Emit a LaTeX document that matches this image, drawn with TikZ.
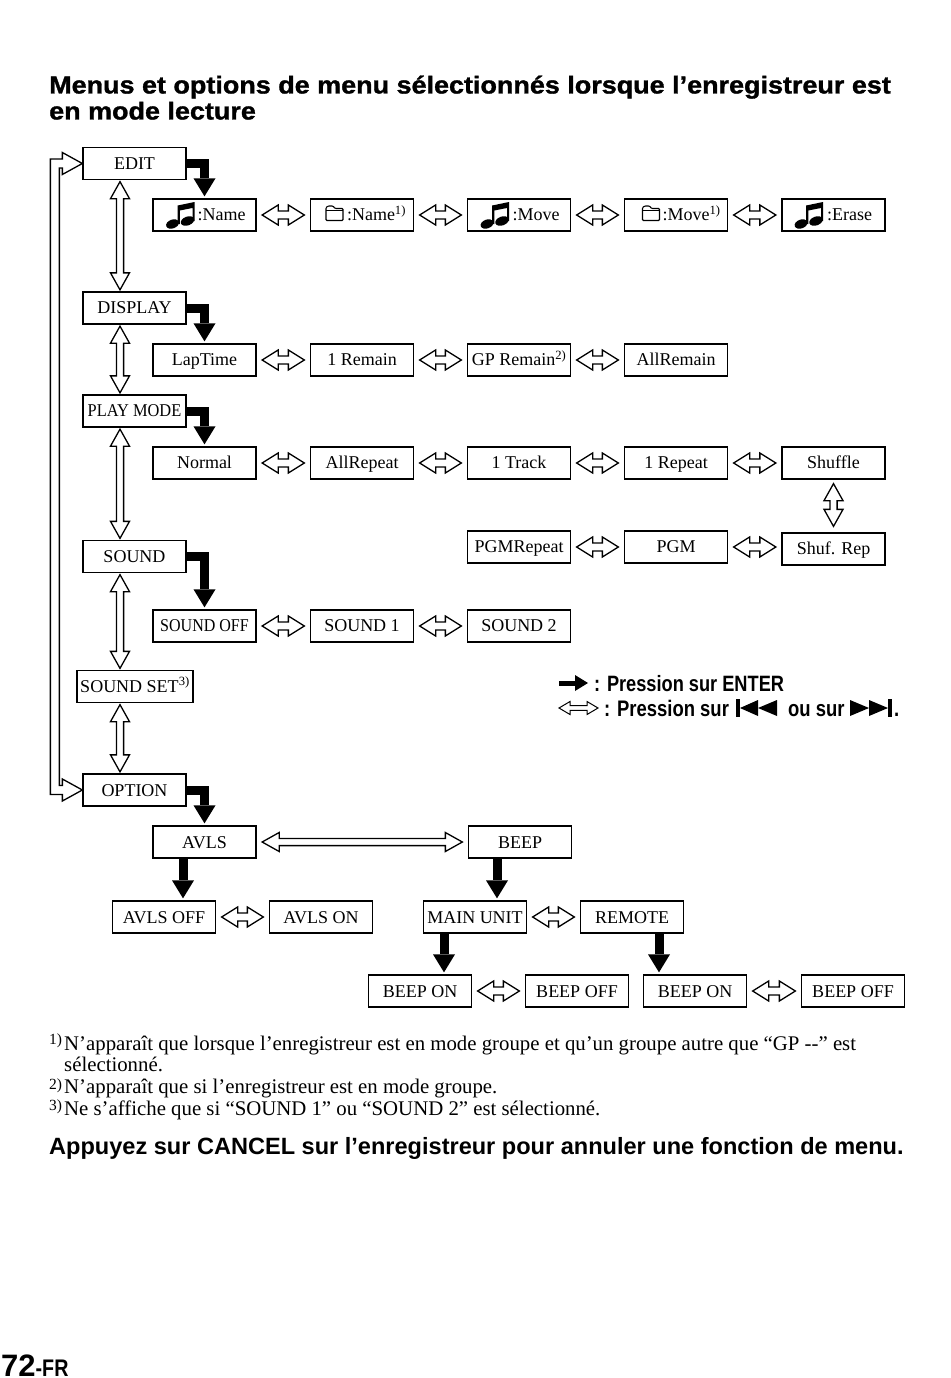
\documentclass[tikz,border=0pt]{standalone}
\usepackage{fontspec}
\setmainfont{Liberation Serif}
\newfontfamily\ttl[FakeStretch=1.10,FakeBold=1.3]{Liberation Sans Bold}
\newfontfamily\hvb{Liberation Sans Bold}
\newfontfamily\cnd[FakeStretch=0.82]{Liberation Sans Bold}
\usetikzlibrary{arrows.meta,calc}
\tikzset{
 box/.style={draw=black,line width=1.3pt,fill=white,minimum width=103pt,minimum height=32pt,inner sep=0pt,text height=12pt,text depth=1pt,font=\fontsize{18}{20}\selectfont},
 low/.style={box,text height=14pt},
 harr/.style n args={3}{to path={let \p1=(\tikztostart),\p2=(\tikztotarget) in
   (\x1,\y1) -- ({\x1+#1pt},{\y1+#2pt}) -- ({\x1+#1pt},{\y1+#3pt}) -- ({\x2-#1pt},{\y1+#3pt}) -- ({\x2-#1pt},{\y1+#2pt}) -- (\x2,\y1)
   -- ({\x2-#1pt},{\y1-#2pt}) -- ({\x2-#1pt},{\y1-#3pt}) -- ({\x1+#1pt},{\y1-#3pt}) -- ({\x1+#1pt},{\y1-#2pt}) -- cycle}},
 varr/.style n args={3}{to path={let \p1=(\tikztostart),\p2=(\tikztotarget) in
   (\x1,\y1) -- ({\x1+#2pt},{\y1-#1pt}) -- ({\x1+#3pt},{\y1-#1pt}) -- ({\x1+#3pt},{\y2+#1pt}) -- ({\x1+#2pt},{\y2+#1pt}) -- (\x1,\y2)
   -- ({\x1-#2pt},{\y2+#1pt}) -- ({\x1-#3pt},{\y2+#1pt}) -- ({\x1-#3pt},{\y1-#1pt}) -- ({\x1-#2pt},{\y1-#1pt}) -- cycle}},
 loopsh/.style={to path={let \p1=(\tikztostart),\p2=(\tikztotarget) in
   (\x1,\y1) -- ({\x1-20pt},{\y1+11pt}) -- ({\x1-20pt},{\y1+4.5pt}) -- ({\x1-32pt},{\y1+4.5pt}) -- ({\x1-32pt},{\y2-4.5pt}) -- ({\x1-20pt},{\y2-4.5pt}) -- ({\x1-20pt},{\y2-11pt}) -- (\x2,\y2)
   -- ({\x1-20pt},{\y2+11pt}) -- ({\x1-20pt},{\y2+4.5pt}) -- ({\x1-23pt},{\y2+4.5pt}) -- ({\x1-23pt},{\y1-4.5pt}) -- ({\x1-20pt},{\y1-4.5pt}) -- ({\x1-20pt},{\y1-11pt}) -- cycle}},
 arr/.style={draw=black,fill=white,line width=1.3pt,miter limit=10},
 blk/.style={draw=black,line width=9pt,-{Triangle[length=18pt,width=22pt,line width=0pt]},shorten >=2pt},
 txt/.style={anchor=base west,inner sep=0pt,font=\fontsize{20.8}{22}\selectfont},
 mrk/.style={anchor=base west,inner sep=0pt,font=\fontsize{15.5}{17}\selectfont},
 note/.pic={
  \fill (0,-2) ellipse[x radius=6.6pt,y radius=4.4pt,rotate=20];
  \fill (15,-5) ellipse[x radius=7pt,y radius=4.4pt,rotate=20];
  \fill (5.2,-2) -- (5.2,-20.5) -- (22,-24) -- (22,-5) -- (20,-5) -- (20,-18) -- (7.4,-15.5) -- (7.4,-2) -- cycle;
 },
 folder/.pic={
  \draw[line width=1.1pt,rounded corners=1pt] (0,0) -- (0,-13) -- (2,-14.5) -- (7,-14.5) -- (9,-12) -- (17,-12) -- (17,0) -- cycle;
  \draw[line width=.8pt] (0,-10.5) -- (17,-10.5);
 }
}
\begin{document}
\begin{tikzpicture}[x=1pt,y=-1pt]
\useasboundingbox (0,0) rectangle (950,1378);
% title
\node[anchor=base west,inner sep=0pt,font=\fontsize{24.5}{26}\ttl] (t1) at (49,93.5) {Menus et options de menu sélectionnés lorsque l’enregistreur est};
\node[anchor=base west,inner sep=0pt,font=\fontsize{24.5}{26}\ttl] (t2) at (49,119.5) {en mode lecture};
% left column
\node[box] (edit) at (134.5,163.5) {EDIT};
\node[box] (display) at (134.5,308) {DISPLAY};
\node[box] (play) at (134.5,411) {\scalebox{0.91}[1]{PLAY MODE}};
\node[box] (sound) at (134.5,556.5) {SOUND};
\node[box,minimum width=116pt] (soundset) at (135,686.5) {SOUND SET\textsuperscript{3)}};
\node[low] (option) at (134.5,790) {OPTION};
% row edit
\node[box] (e1) at (204.5,215) {\hspace{34pt}:Name};
\node[box] (e2) at (362,215) {\hspace{29pt}:Name\textsuperscript{1)}};
\node[box] (e3) at (519,215) {\hspace{34pt}:Move};
\node[box] (e4) at (676,215) {\hspace{31pt}:Move\textsuperscript{1)}};
\node[box] (e5) at (833.5,215) {\hspace{32pt}:Erase};
\pic at (172.5,226) {note};
\pic at (487,226) {note};
\pic at (801,226) {note};
\pic at (326,220.5) {folder};
\pic at (642.5,220.5) {folder};
% row display
\node[box] (d1) at (204.5,360) {LapTime};
\node[box] (d2) at (362,360) {1 Remain};
\node[box] (d3) at (519,360) {GP Remain\textsuperscript{2)}};
\node[box] (d4) at (676,360) {AllRemain};
% row play
\node[box] (p1) at (204.5,463) {Normal};
\node[box] (p2) at (362,463) {AllRepeat};
\node[box] (p3) at (519,463) {1 Track};
\node[box] (p4) at (676,463) {1 Repeat};
\node[box] (p5) at (833.5,463) {Shuffle};
\node[box] (q3) at (519,547) {PGMRepeat};
\node[box] (q4) at (676,547) {PGM};
\node[box] (q5) at (833.5,549) {Shuf. Rep};
% row sound
\node[box] (s1) at (204.5,626) {\scalebox{0.89}[1]{SOUND OFF}};
\node[box] (s2) at (362,626) {SOUND 1};
\node[box] (s3) at (519,626) {SOUND 2};
% option
\node[low] (avls) at (204.5,842) {AVLS};
\node[low] (beep) at (520,842) {BEEP};
\node[low] (aoff) at (164,917) {AVLS OFF};
\node[low] (aon) at (321,917) {AVLS ON};
\node[low] (main) at (475,917) {MAIN UNIT};
\node[low] (remote) at (632,917) {REMOTE};
\node[low] (b1) at (420,991) {BEEP ON};
\node[low] (b2) at (577,991) {BEEP OFF};
\node[low] (b3) at (695,991) {BEEP ON};
\node[low] (b4) at (853,991) {BEEP OFF};
% loop
\draw[arr] (edit.west) to[loopsh] (option.west);
% vertical
\foreach \a/\b in {edit/display,display/play,play/sound,sound/soundset,soundset/option}
  \draw[arr] ([xshift=-14.5pt,yshift=-1.5pt]\a.south -| edit.south) to[varr={17}{9.5}{3.6}] ([xshift=-14.5pt,yshift=1.5pt]\b.north -| edit.south);
\draw[arr] ([yshift=-4pt]p5.south) to[varr={17}{9.5}{3.6}] ([yshift=6pt]q5.north);
% horizontal
\foreach \a/\b in {e1/e2,e2/e3,e3/e4,e4/e5,d1/d2,d2/d3,d3/d4,p1/p2,p2/p3,p3/p4,p4/p5,q3/q4,q4/q5,s1/s2,s2/s3,aoff/aon,main/remote,b1/b2,b3/b4}
  \draw[arr] ([xshift=5.5pt]\a.east) to[harr={16}{10}{4}] ([xshift=-5.5pt]\a.east -| \b.west);
\draw[arr] ([xshift=5.5pt]avls.east) to[harr={17}{9.5}{3.6}] ([xshift=-5.5pt]beep.west);
% black
\foreach \a/\b in {edit/e1,display/d1,play/p1,sound/s1,option/avls}
  \draw[blk] (\a.east) -| (\b.north);
\draw[blk] ([xshift=-21.5pt]avls.south) -- ([xshift=19pt]aoff.north);
\draw[blk] ([xshift=-23pt]beep.south) -- ([xshift=22pt]main.north);
\draw[blk] ([xshift=-31pt]main.south) -- ([xshift=24pt]b1.north);
\draw[blk] ([xshift=27pt]remote.south) -- ([xshift=-36pt]b3.north);
% legend
\coordinate (la) at (559,683);
\coordinate (lb) at (588,683);
\coordinate (lc) at (559,708);
\coordinate (ld) at (598,708);
\draw[draw=black,line width=5pt,-{Triangle[length=13pt,width=16pt,line width=0pt]}] (la) -- (lb);
\draw[arr,line width=1pt] (lc) to[harr={11}{6.5}{2.4}] (ld);
\node[anchor=base west,inner sep=0pt,font=\fontsize{22.2}{24}\cnd] (l1) at (594,691) {: Pression sur ENTER};
\node[anchor=base west,inner sep=0pt,font=\fontsize{22.5}{24}\cnd] (l2) at (604,716) {: Pression sur};
\node[anchor=base west,inner sep=0pt,font=\fontsize{22.5}{24}\cnd] (l3) at (788,716) {ou sur};
\node[anchor=base west,inner sep=0pt,font=\fontsize{22.5}{24}\cnd] (l4) at (894,716) {.};
\fill (736,699) rectangle (740,717);
\fill (740,708) -- (758,700) -- (758,716) -- cycle;
\fill (758,708) -- (777,700) -- (777,716) -- cycle;
\fill (850,700) -- (869,708) -- (850,716) -- cycle;
\fill (869,700) -- (888,708) -- (869,716) -- cycle;
\fill (888,699) rectangle (892,717);
% footnotes
\node[mrk] (f1m) at (49,1044) {1)};
\node[txt] (f1) at (64,1050) {N’apparaît que lorsque l’enregistreur est en mode groupe et qu’un groupe autre que “GP -{}-” est};
\node[txt] (f1b) at (64,1071) {sélectionné.};
\node[mrk] (f2m) at (49,1089) {2)};
\node[txt] (f2) at (64,1093) {N’apparaît que si l’enregistreur est en mode groupe.};
\node[mrk] (f3m) at (49,1110) {3)};
\node[txt] (f3) at (64,1115.5) {Ne s’affiche que si “SOUND 1” ou “SOUND 2” est sélectionné.};
\node[anchor=base west,inner sep=0pt,font=\fontsize{23.55}{26}\hvb] (c) at (49,1154) {Appuyez sur CANCEL sur l’enregistreur pour annuler une fonction de menu.};
\node[anchor=base west,inner sep=0pt,font=\fontsize{31}{33}\hvb] (pg) at (1,1376) {72\fontsize{24}{26}\cnd -FR};
\end{tikzpicture}
\end{document}
